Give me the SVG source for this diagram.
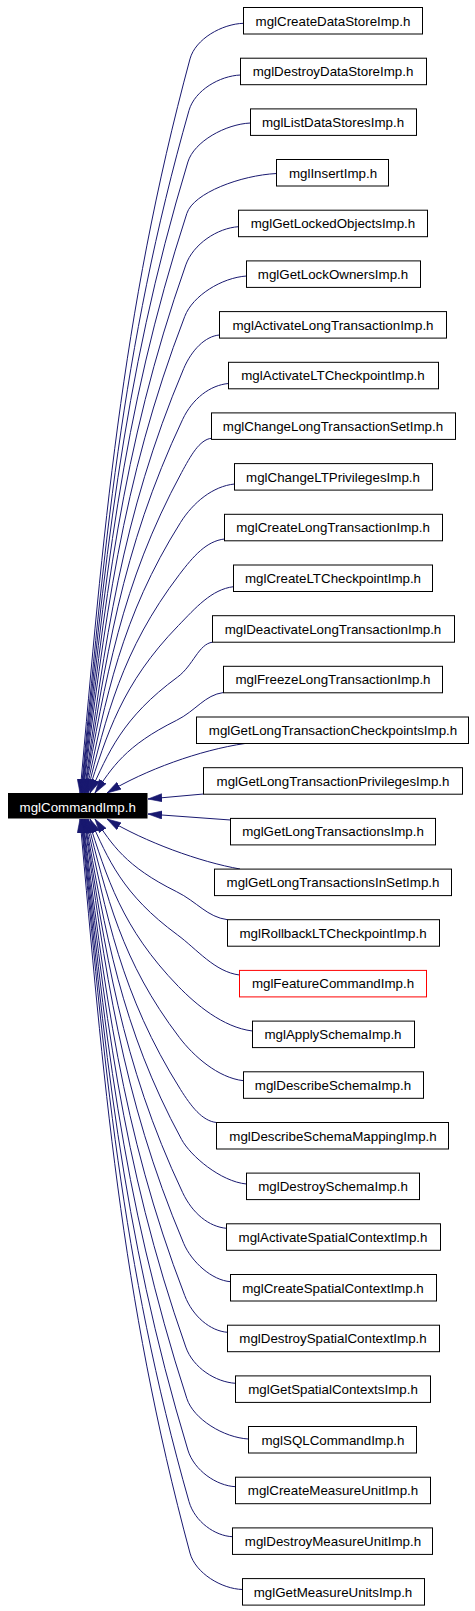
<svg xmlns="http://www.w3.org/2000/svg" width="475" height="1611" viewBox="0 0 475 1611">
<style>
.n rect{fill:#fff;stroke:#000;stroke-width:1}
.n text{font-family:"Liberation Sans",Arial,Helvetica,sans-serif;font-size:13.33px;text-anchor:middle;fill:#000}
#n20 rect{stroke:#ff0000}
#main rect{fill:#000;stroke:#000}
#main text{fill:#fff}
.e path{fill:none;stroke:#191970;stroke-width:1;marker-end:url(#ah)}
</style>
<defs>
<marker id="ah" viewBox="0 0 14 9" markerWidth="14" markerHeight="9" refX="14" refY="4.5" orient="auto" markerUnits="userSpaceOnUse">
<path d="M0,0.5 L14,4.5 L0,8.5 Z" fill="#191970" stroke="#191970" stroke-width="0.6"/>
</marker>
</defs>
<rect x="0" y="0" width="475" height="1611" fill="#fff"/>
<g id="connectors" class="e">
<path d="M243.5,23.3 C222.1,23.9 195.4,38.9 190,58.9 C120.7,315.8 103.1,536.1 80,793"/>
<path d="M240.5,75 C219.9,75.8 194.8,90.2 189,110.4 C121,349.3 103.7,554.1 81,793"/>
<path d="M250.5,123 C225.5,124.1 194.1,141.55 187.9,161.950 C120.9,382.85 103.8,572.1 81.5,793"/>
<path d="M276.5,173.5 C240.6,175.4 193.5,192.9 186.85,213.4 C120.8,416.3 104,590.1 82,793"/>
<path d="M238.5,226.7 C217.4,228 193.1,244.2 185.8,264.9 C120.7,449.7 104.2,608.2 82.5,793"/>
<path d="M246.5,276 C221.8,277.7 192.75,295.6 184.75,316.4 C120.65,483.2 104.4,626.2 83,793"/>
<path d="M219.5,335 C205.2,336.1 191.5,350.2 183.7,368.6 C120.9,517.1 104.9,644.5 84,793"/>
<path d="M228.5,383.5 C210.2,385.1 192.5,398.5 182.65,419.4 C120.85,550.2 105.1,662.2 84.5,793"/>
<path d="M211.5,438.3 C199.5,439.4 190.4,456.3 181.6,472.5 C120.7,584.7 105.3,680.8 85,793"/>
<path d="M234.5,484 C212.9,486.2 193.15,502.45 180.55,522.45 C120.95,617.15 105.9,698.3 86,793"/>
<path d="M224.5,539 C206.5,541 193.3,556.25 179.5,574.35 C121.2,650.85 106.4,716.5 87,793"/>
<path d="M233.5,586.7 C211.5,589.3 195.35,608.1 178.45,625.5 C121.45,684.1 107,734.4 88,793"/>
<path d="M212.5,642.2 C198.5,644 193.3,665.5 177.4,677.2 C122.3,717.7 108.35,752.5 90,793"/>
<path d="M223.5,692.5 C204.6,695 195.95,710.75 176.35,720.45 C125.1,745.85 112.1,767.6 95,793"/>
<path d="M245,743.5 C200,750 145,770 107,793"/>
<path d="M203.5,794 L148,799"/>
<path d="M230.5,820 L148,814"/>
<path d="M240,869 C200,862 145,842 107,819"/>
<path d="M227.5,919.7 C207,917 197.35,901.95 176.35,891.55 C125.1,866.15 112.1,844.4 95,819"/>
<path d="M239.5,975 C214.7,971.9 196.9,949.15 177.4,934.8 C122.3,894.3 108.35,859.5 90,819"/>
<path d="M252.5,1031 C222.9,1027.5 195.35,1003.9 178.45,986.5 C121.45,927.9 107,877.6 88,819"/>
<path d="M243.5,1080.7 C217.9,1077.9 193.3,1055.75 179.5,1037.65 C121.2,961.15 106.4,895.5 87,819"/>
<path d="M216.5,1122.5 C202.1,1121.05 190.95,1106.05 180.55,1089.55 C120.95,994.85 105.9,913.7 86,819"/>
<path d="M246.5,1184 C220.5,1181.6 190.4,1155.7 181.6,1139.5 C120.7,1027.3 105.3,931.2 85,819"/>
<path d="M226.5,1228.3 C209,1226.8 192.5,1213.5 182.65,1192.6 C120.85,1061.8 105.1,949.8 84.5,819"/>
<path d="M230.5,1281.7 C211.8,1280.3 191.5,1261.8 183.7,1243.4 C120.9,1094.9 104.9,967.5 84,819"/>
<path d="M227.5,1332.3 C210.4,1331.1 192.75,1316.4 184.75,1295.6 C120.65,1128.8 104.4,985.8 83,819"/>
<path d="M235.5,1383.3 C215.6,1382.1 193.1,1367.8 185.8,1347.1 C120.7,1162.3 104.2,1003.8 82.5,819"/>
<path d="M248.5,1439 C223.8,1437.7 193.5,1419.1 186.85,1398.6 C120.8,1195.7 104,1021.9 82,819"/>
<path d="M235.5,1486.7 C216.5,1485.8 194.1,1470.45 187.9,1450.05 C120.9,1229.15 103.8,1039.9 81.5,819"/>
<path d="M232.5,1536.7 C215.1,1536 194.8,1521.8 189,1501.6 C121,1262.7 103.7,1057.9 81,819"/>
<path d="M242.5,1589.5 C221.5,1588.9 195.4,1573.1 190,1553.1 C120.7,1296.2 103.1,1075.9 80,819"/>
</g>
<g id="main"><rect x="8.5" y="793.5" width="138.5" height="24.5"/><text x="77.75" y="811.5" font-family="Liberation Sans, Arial, sans-serif" font-size="13.33" text-anchor="middle">mglCommandImp.h</text></g>
<g id="n1" class="n"><rect x="243.5" y="7.5" width="179" height="26.5"/><text x="333" y="25.5">mglCreateDataStoreImp.h</text></g>
<g id="n2" class="n"><rect x="240.5" y="58.2" width="186" height="26.5"/><text x="333" y="76.2">mglDestroyDataStoreImp.h</text></g>
<g id="n3" class="n"><rect x="250.5" y="108.9" width="166" height="26.5"/><text x="333" y="126.9">mglListDataStoresImp.h</text></g>
<g id="n4" class="n"><rect x="276.5" y="159.5" width="112" height="26.5"/><text x="333" y="177.5">mglInsertImp.h</text></g>
<g id="n5" class="n"><rect x="238.5" y="210.2" width="189" height="26.5"/><text x="333" y="228.2">mglGetLockedObjectsImp.h</text></g>
<g id="n6" class="n"><rect x="246.5" y="260.9" width="174" height="26.5"/><text x="333" y="278.9">mglGetLockOwnersImp.h</text></g>
<g id="n7" class="n"><rect x="219.5" y="311.6" width="227" height="26.5"/><text x="333" y="329.6">mglActivateLongTransactionImp.h</text></g>
<g id="n8" class="n"><rect x="228.5" y="362.3" width="210" height="26.5"/><text x="333" y="380.3">mglActivateLTCheckpointImp.h</text></g>
<g id="n9" class="n"><rect x="211.5" y="412.9" width="244" height="26.5"/><text x="333" y="430.9">mglChangeLongTransactionSetImp.h</text></g>
<g id="n10" class="n"><rect x="234.5" y="463.6" width="198" height="26.5"/><text x="333" y="481.6">mglChangeLTPrivilegesImp.h</text></g>
<g id="n11" class="n"><rect x="224.5" y="514.3" width="218" height="26.5"/><text x="333" y="532.3">mglCreateLongTransactionImp.h</text></g>
<g id="n12" class="n"><rect x="233.5" y="565" width="199" height="26.5"/><text x="333" y="583">mglCreateLTCheckpointImp.h</text></g>
<g id="n13" class="n"><rect x="212.5" y="615.7" width="242" height="26.5"/><text x="333" y="633.7">mglDeactivateLongTransactionImp.h</text></g>
<g id="n14" class="n"><rect x="223.5" y="666.3" width="219" height="26.5"/><text x="333" y="684.3">mglFreezeLongTransactionImp.h</text></g>
<g id="n15" class="n"><rect x="196.5" y="717" width="272" height="26.5"/><text x="333" y="735">mglGetLongTransactionCheckpointsImp.h</text></g>
<g id="n16" class="n"><rect x="203.5" y="767.7" width="259" height="26.5"/><text x="333" y="785.7">mglGetLongTransactionPrivilegesImp.h</text></g>
<g id="n17" class="n"><rect x="230.5" y="818.4" width="205" height="26.5"/><text x="333" y="836.4">mglGetLongTransactionsImp.h</text></g>
<g id="n18" class="n"><rect x="214.5" y="869.1" width="237" height="26.5"/><text x="333" y="887.1">mglGetLongTransactionsInSetImp.h</text></g>
<g id="n19" class="n"><rect x="227.5" y="919.7" width="212" height="26.5"/><text x="333" y="937.7">mglRollbackLTCheckpointImp.h</text></g>
<g id="n20" class="n"><rect x="239.5" y="970.4" width="187" height="26.5"/><text x="333" y="988.4">mglFeatureCommandImp.h</text></g>
<g id="n21" class="n"><rect x="252.5" y="1021.1" width="162" height="26.5"/><text x="333" y="1039.1">mglApplySchemaImp.h</text></g>
<g id="n22" class="n"><rect x="243.5" y="1071.8" width="180" height="26.5"/><text x="333" y="1089.8">mglDescribeSchemaImp.h</text></g>
<g id="n23" class="n"><rect x="216.5" y="1122.5" width="232" height="26.5"/><text x="333" y="1140.5">mglDescribeSchemaMappingImp.h</text></g>
<g id="n24" class="n"><rect x="246.5" y="1173.1" width="173" height="26.5"/><text x="333" y="1191.1">mglDestroySchemaImp.h</text></g>
<g id="n25" class="n"><rect x="226.5" y="1223.8" width="214" height="26.5"/><text x="333" y="1241.8">mglActivateSpatialContextImp.h</text></g>
<g id="n26" class="n"><rect x="230.5" y="1274.5" width="206" height="26.5"/><text x="333" y="1292.5">mglCreateSpatialContextImp.h</text></g>
<g id="n27" class="n"><rect x="227.5" y="1325.2" width="212" height="26.5"/><text x="333" y="1343.2">mglDestroySpatialContextImp.h</text></g>
<g id="n28" class="n"><rect x="235.5" y="1375.9" width="195" height="26.5"/><text x="333" y="1393.9">mglGetSpatialContextsImp.h</text></g>
<g id="n29" class="n"><rect x="248.5" y="1426.5" width="168" height="26.5"/><text x="333" y="1444.5">mglSQLCommandImp.h</text></g>
<g id="n30" class="n"><rect x="235.5" y="1477.2" width="195" height="26.5"/><text x="333" y="1495.2">mglCreateMeasureUnitImp.h</text></g>
<g id="n31" class="n"><rect x="232.5" y="1527.9" width="200" height="26.5"/><text x="333" y="1545.9">mglDestroyMeasureUnitImp.h</text></g>
<g id="n32" class="n"><rect x="242.5" y="1578.6" width="182" height="26.5"/><text x="333" y="1596.6">mglGetMeasureUnitsImp.h</text></g>
</svg>
